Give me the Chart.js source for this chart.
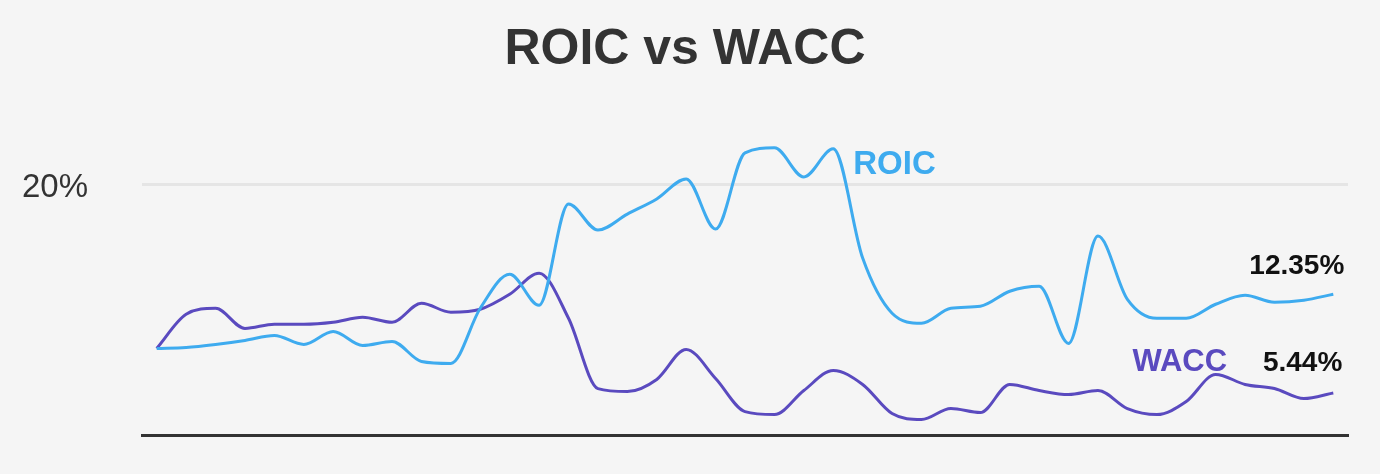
<!DOCTYPE html>
<html>
<head>
<meta charset="utf-8">
<script src="https://cdn.jsdelivr.net/npm/chart.js@4.4.1/dist/chart.umd.min.js"></script>
<style>
  html, body { margin: 0; padding: 0; background: #f5f5f5; }
  #c { display: block; }
</style>
</head>
<body>
<canvas id="c" width="1380" height="474"></canvas>
<script>
// ---- data ----
const categories = [
  "Q1 14","Q2 14","Q3 14","Q4 14","Q1 15","Q2 15","Q3 15","Q4 15",
  "Q1 16","Q2 16","Q3 16","Q4 16","Q1 17","Q2 17","Q3 17","Q4 17",
  "Q1 18","Q2 18","Q3 18","Q4 18","Q1 19","Q2 19","Q3 19","Q4 19",
  "Q1 20","Q2 20","Q3 20","Q4 20","Q1 21","Q2 21","Q3 21","Q4 21",
  "Q1 22","Q2 22","Q3 22","Q4 22","Q1 23","Q2 23","Q3 23","Q4 23",
  "Q1 24"
];
const roicValues = [
  8.56, 8.63, 8.84, 9.12, 9.47, 8.84, 9.75, 8.77, 9.05, 7.65,
  7.51, 11.37, 13.75, 11.58, 18.67, 16.84, 17.96, 19.02, 20.42, 16.91,
  22.25, 22.60, 20.56, 22.53, 14.88, 11.02, 10.32, 11.37, 11.51, 12.56,
  12.91, 8.91, 16.42, 12.00, 10.67, 10.67, 11.65, 12.28, 11.79, 11.93,
  12.35
];
const waccValues = [
  8.56, 10.95, 11.37, 9.96, 10.25, 10.25, 10.39, 10.74, 10.39, 11.72,
  11.09, 11.30, 12.35, 13.82, 10.67, 5.75, 5.54, 6.39, 8.49, 6.46,
  4.14, 3.93, 5.61, 7.02, 6.04, 4.00, 3.58, 4.35, 4.07, 6.04,
  5.61, 5.33, 5.61, 4.35, 3.93, 4.84, 6.74, 6.04, 5.75, 5.05,
  5.44
];
const yTickValues = [20];
const seriesNames = ["ROIC", "WACC"];
const chartTitle = "ROIC vs WACC";

// ---- styles ----
const FONT = "'Liberation Sans', Arial, Helvetica, sans-serif";
const ROIC_COLOR = "#3eabef";
const WACC_COLOR = "#5a4abf";

const labelPlugin = {
  id: "endLabels",
  afterDatasetsDraw(chart) {
    const { ctx } = chart;
    const x = chart.scales.x, y = chart.scales.y;
    const last = roicValues.length - 1;
    const lastX = x.getPixelForValue(last);
    ctx.save();
    ctx.textBaseline = "alphabetic";
    ctx.fillStyle = ROIC_COLOR;
    ctx.font = "bold 33px " + FONT;
    ctx.textAlign = "left";
    ctx.fillText(seriesNames[0], x.getPixelForValue(23) + 20, y.getPixelForValue(20) - 11);
    ctx.fillStyle = WACC_COLOR;
    ctx.font = "bold 31px " + FONT;
    ctx.fillText(seriesNames[1], x.getPixelForValue(33) + 5, y.getPixelForValue(waccValues[last]) - 22);
    ctx.fillStyle = "#111111";
    ctx.font = "bold 28px " + FONT;
    ctx.textAlign = "right";
    ctx.fillText(roicValues[last].toFixed(2) + "%", lastX + 11, y.getPixelForValue(roicValues[last]) - 20);
    ctx.fillText(waccValues[last].toFixed(2) + "%", lastX + 9, y.getPixelForValue(waccValues[last]) - 22);
    ctx.restore();
  }
};

new Chart(document.getElementById("c"), {
  type: "line",
  data: {
    labels: categories,
    datasets: [
      {
        label: seriesNames[0],
        data: roicValues,
        borderColor: ROIC_COLOR,
        borderWidth: 3,
        pointRadius: 0,
        fill: false,
        cubicInterpolationMode: "monotone"
      },
      {
        label: seriesNames[1],
        data: waccValues,
        borderColor: WACC_COLOR,
        borderWidth: 3,
        pointRadius: 0,
        fill: false,
        cubicInterpolationMode: "monotone"
      }
    ]
  },
  options: {
    responsive: false,
    animation: false,
    devicePixelRatio: 1,
    layout: { padding: { left: 22, right: 32, top: 0, bottom: 39 } },
    plugins: {
      legend: { display: false },
      tooltip: { enabled: false },
      title: {
        display: true,
        text: chartTitle,
        color: "#333333",
        font: { family: FONT, size: 50, weight: "bold", lineHeight: 1.2 },
        padding: { top: 20, bottom: 33.5 }
      }
    },
    scales: {
      x: {
        type: "category",
        offset: true,
        grid: { display: false, drawTicks: false },
        border: { display: true, color: "#333333", width: 3 },
        ticks: { display: false },
        afterFit(scale) { scale.height = 0; }
      },
      y: {
        min: 2.5,
        max: 25,
        afterBuildTicks(scale) { scale.ticks = yTickValues.map(v => ({ value: v })); },
        afterFit(scale) { scale.width = 120; },
        grid: { display: true, color: "#e5e5e5", lineWidth: 3, drawTicks: false },
        border: { display: false },
        ticks: {
          crossAlign: "far",
          padding: 0,
          labelOffset: 3,
          color: "#333333",
          font: { family: FONT, size: 33 },
          callback: v => v + "%"
        }
      }
    }
  },
  plugins: [labelPlugin]
});
</script>
</body>
</html>
